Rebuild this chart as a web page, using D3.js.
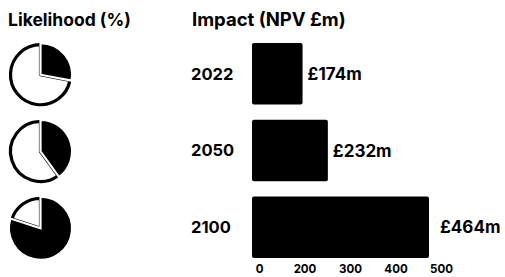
<!DOCTYPE html>
<html><head><meta charset="utf-8">
<script src="https://cdn.jsdelivr.net/npm/d3@7"></script>
<style>
html,body{margin:0;padding:0;background:#fff;}
svg{display:block;font-family:"Inter","Lato",sans-serif;}
</style></head>
<body>
<svg id="c" width="505" height="277"></svg>
<script>
const years = ["2022", "2050", "2100"];
const likelihood = [28, 40, 80];
const impact = [174, 232, 464];
const impactLabels = ["£174m", "£232m", "£464m"];
const tickLabels = ["0", "200", "300", "400", "500"];

const svg = d3.select("#c");

svg.append("text").attr("x", 8).attr("y", 26)
  .attr("font-size", 17.5).attr("font-weight", 700).attr("fill", "#000")
  .text("Likelihood (%)");
svg.append("text").attr("x", 192).attr("y", 26)
  .attr("font-size", 18.5).attr("font-weight", 700).attr("fill", "#000")
  .text("Impact (NPV £m)");

const y = d3.scaleBand().domain(years).range([43, 258]).paddingInner(0.2).paddingOuter(0);
const x = d3.scaleLinear().domain([58, 464]).range([252, 429]);

// pies
const r = 30;
const pie = d3.pie().sort(null).value(d => d.v);
const arc = d3.arc().innerRadius(0).outerRadius(r);
years.forEach((yr, i) => {
  const cy = y(yr) + y.bandwidth() / 2 + 1;
  const g = svg.append("g").attr("transform", `translate(40.5,${cy})`);
  const data = pie([{k: "yes", v: likelihood[i]}, {k: "no", v: 100 - likelihood[i]}]);
  g.append("path").attr("d", arc(data[1]))
    .attr("fill", "#fff").attr("stroke", "#000").attr("stroke-width", 3.2).attr("stroke-linejoin", "round");
  g.append("path").attr("d", d3.arc().innerRadius(0).outerRadius(r + 1.6)(data[0]))
    .attr("fill", "#000").attr("stroke", "#fff").attr("stroke-width", 2.2).attr("stroke-linejoin", "miter");
});

// year labels
svg.selectAll("text.yr").data(years).join("text").attr("class", "yr")
  .attr("x", 191).attr("y", d => y(d) + y.bandwidth() / 2)
  .attr("dy", "0.36em").attr("font-size", 16.5).attr("font-weight", 700).text(d => d);

// bars
svg.selectAll("rect.bar").data(impact).join("rect").attr("class", "bar")
  .attr("x", x(58)).attr("y", (d, i) => y(years[i]))
  .attr("width", d => x(d) - x(58)).attr("height", y.bandwidth())
  .attr("rx", 2).attr("fill", "#000");

// value labels
svg.selectAll("text.val").data(impact).join("text").attr("class", "val")
  .attr("x", d => x(d) + (d > 400 ? 11 : 5)).attr("y", (d, i) => y(years[i]) + y.bandwidth() / 2)
  .attr("dy", "0.36em").attr("font-size", 17).attr("font-weight", 700).text((d, i) => impactLabels[i]);

// axis ticks
const xt = d3.scalePoint().domain(tickLabels).range([259, 441]);
const axis = svg.append("g").attr("transform", "translate(0,263)")
  .call(d3.axisBottom(xt).tickSize(0).tickPadding(2));
axis.select(".domain").remove();
axis.selectAll("text").attr("font-size", 11.5).attr("font-weight", 700)
  .attr("fill", "#000").attr("font-family", "Inter, Lato, sans-serif");
</script>
</body></html>
